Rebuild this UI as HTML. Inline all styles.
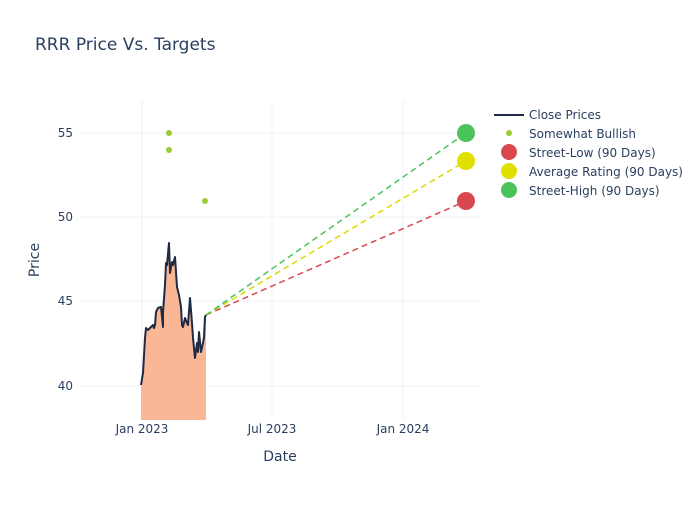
<!DOCTYPE html>
<html><head><meta charset="utf-8"><style>
html,body{margin:0;padding:0;background:#fff;}
svg text{font-family:"DejaVu Sans","Liberation Sans",sans-serif;fill:#2a3f5f;}
</style></head><body>
<svg width="700" height="500" xmlns="http://www.w3.org/2000/svg">
<rect width="700" height="500" fill="#fff"/>
<g stroke="#ebf0f8" stroke-width="1">
<line x1="142" y1="100" x2="142" y2="420"/>
<line x1="272" y1="100" x2="272" y2="420"/>
<line x1="403" y1="100" x2="403" y2="420"/>
<line x1="80" y1="386" x2="480" y2="386"/>
<line x1="80" y1="301" x2="480" y2="301"/>
<line x1="80" y1="217" x2="480" y2="217"/>
<line x1="80" y1="133" x2="480" y2="133"/>
</g>
<path d="M141,385 L143,373 L145,338 L146,328 L148,330 L151,327 L153,325 L154,328 L155,325 L156,312 L158,308 L161,307 L163,327 L163,312 L165,285 L166,263 L167,265 L169,243 L170,273 L172,262 L173,265 L175,257 L177,287 L179,295 L181,307 L182,325 L183,327 L185,318 L187,323 L188,325 L190,298 L192,323 L193,338 L195,358 L197,343 L198,352 L199,332 L201,352 L203,343 L204,337 L205,317 L206,315 L206,420 L141,420 Z" fill="#f9b796" stroke="none"/>
<path d="M141,385 L143,373 L145,338 L146,328 L148,330 L151,327 L153,325 L154,328 L155,325 L156,312 L158,308 L161,307 L163,327 L163,312 L165,285 L166,263 L167,265 L169,243 L170,273 L172,262 L173,265 L175,257 L177,287 L179,295 L181,307 L182,325 L183,327 L185,318 L187,323 L188,325 L190,298 L192,323 L193,338 L195,358 L197,343 L198,352 L199,332 L201,352 L203,343 L204,337 L205,317 L206,315" fill="none" stroke="#1f2a44" stroke-width="2" stroke-linejoin="round"/>
<g stroke-width="1.5" stroke-dasharray="6,4" fill="none">
<line x1="206" y1="315" x2="466" y2="201" stroke="#d9474f"/>
<line x1="206" y1="315" x2="466" y2="161" stroke="#e0d700"/>
<line x1="206" y1="315" x2="466" y2="133" stroke="#4cc35a"/>
</g>
<g fill="#9acd32">
<circle cx="169" cy="133" r="3"/><circle cx="169" cy="150" r="3"/><circle cx="205" cy="201" r="3"/>
</g>
<circle cx="466" cy="201" r="9" fill="#d9474f"/>
<circle cx="466" cy="161" r="9" fill="#e0e000"/>
<circle cx="466" cy="133" r="9" fill="#4cc35a"/>
<g font-size="12" text-anchor="end">
<text x="73" y="390">40</text><text x="73" y="305">45</text><text x="73" y="221">50</text><text x="73" y="137">55</text>
</g>
<g font-size="12" text-anchor="middle">
<text x="142" y="433">Jan 2023</text><text x="272" y="433">Jul 2023</text><text x="403" y="433">Jan 2024</text>
</g>
<text x="280" y="461" font-size="14" text-anchor="middle">Date</text>
<text x="39" y="260" font-size="14" text-anchor="middle" transform="rotate(-90 39 260)">Price</text>
<text x="35" y="50" font-size="17">RRR Price Vs. Targets</text>
<line x1="494" y1="115" x2="524" y2="115" stroke="#1f2a44" stroke-width="2"/>
<circle cx="509" cy="133" r="3" fill="#9acd32"/>
<circle cx="509" cy="152" r="8" fill="#d9474f"/>
<circle cx="509" cy="171" r="8" fill="#e0e000"/>
<circle cx="509" cy="190" r="8" fill="#4cc35a"/>
<g font-size="12">
<text x="529" y="119">Close Prices</text>
<text x="529" y="138">Somewhat Bullish</text>
<text x="529" y="157">Street-Low (90 Days)</text>
<text x="529" y="176">Average Rating (90 Days)</text>
<text x="529" y="195">Street-High (90 Days)</text>
</g>
</svg>
</body></html>
